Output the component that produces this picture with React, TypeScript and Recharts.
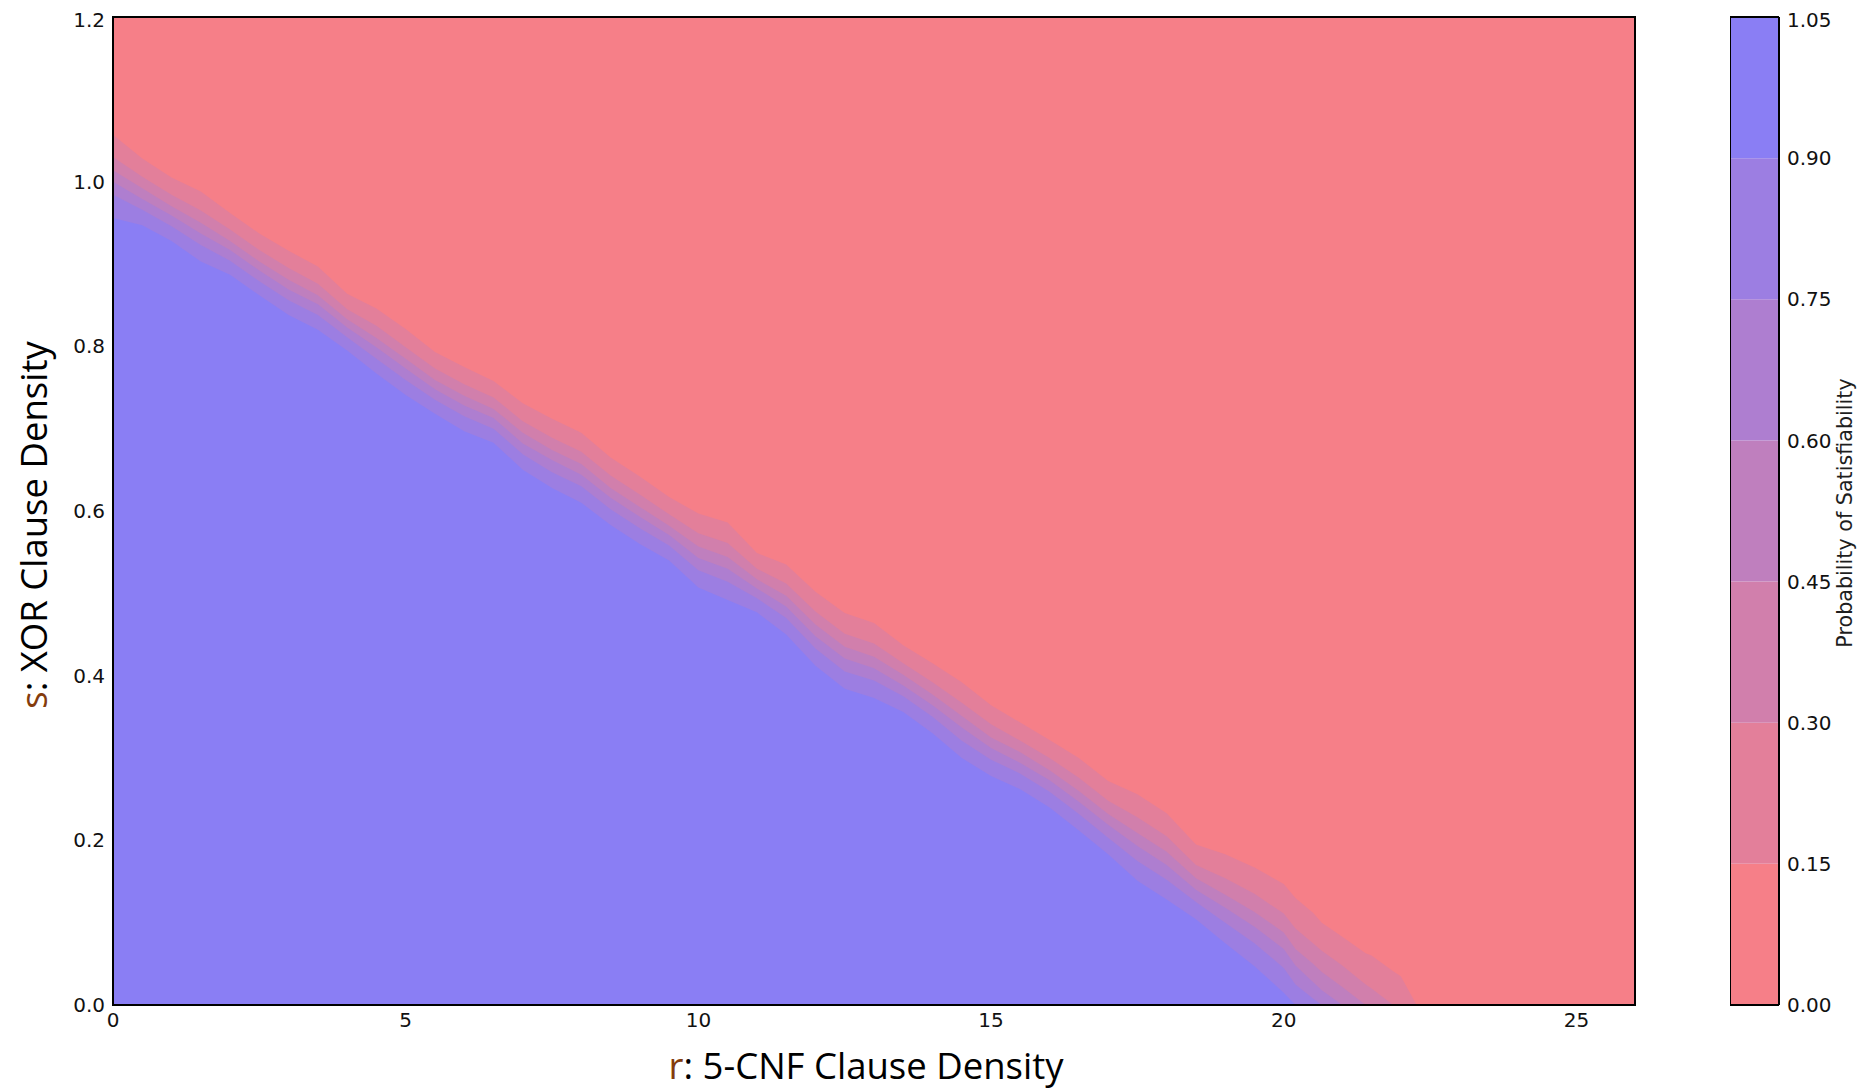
import React from 'react';
import { ComposedChart, Area, XAxis, YAxis, ReferenceArea, BarChart, Bar } from 'recharts';

// r: 5-CNF clause density sample positions
const rValues = [0, 0.5, 1, 1.5, 2, 2.5, 3, 3.5, 4, 4.5, 5, 5.5, 6, 6.5, 7, 7.5, 8, 8.5, 9, 9.5, 10, 10.5, 11, 11.5, 12, 12.5, 13, 13.5, 14, 14.5, 15, 15.5, 16, 16.5, 17, 17.5, 18, 18.5, 19, 19.5, 20, 20.2, 20.5, 20.65, 21, 21.4, 21.5, 21.87, 22, 22.27, 26];

// contour boundaries (s value below which probability >= level)
const b15 = [1.057, 1.028, 1.005, 0.988, 0.962, 0.937, 0.916, 0.897, 0.864, 0.846, 0.821, 0.793, 0.775, 0.758, 0.731, 0.712, 0.695, 0.665, 0.642, 0.617, 0.597, 0.586, 0.549, 0.535, 0.502, 0.476, 0.464, 0.437, 0.415, 0.392, 0.364, 0.343, 0.322, 0.300, 0.272, 0.256, 0.233, 0.195, 0.183, 0.167, 0.147, 0.130, 0.112, 0.100, 0.083, 0.063, 0.060, 0.041, 0.035, 0, 0];
const b30 = [1.030, 1.006, 0.984, 0.965, 0.942, 0.917, 0.895, 0.876, 0.845, 0.825, 0.799, 0.773, 0.754, 0.738, 0.709, 0.689, 0.672, 0.643, 0.620, 0.596, 0.573, 0.561, 0.530, 0.512, 0.478, 0.451, 0.439, 0.415, 0.392, 0.367, 0.341, 0.321, 0.300, 0.276, 0.248, 0.228, 0.205, 0.170, 0.154, 0.135, 0.111, 0.093, 0.075, 0.066, 0.048, 0.025, 0.020, 0, 0, 0, 0];
const b45 = [1.014, 0.992, 0.970, 0.950, 0.928, 0.903, 0.881, 0.862, 0.833, 0.810, 0.785, 0.759, 0.740, 0.724, 0.695, 0.674, 0.657, 0.628, 0.605, 0.582, 0.557, 0.544, 0.517, 0.497, 0.462, 0.435, 0.423, 0.401, 0.377, 0.351, 0.325, 0.307, 0.285, 0.260, 0.232, 0.209, 0.186, 0.154, 0.134, 0.113, 0.088, 0.068, 0.050, 0.040, 0.022, 0, 0, 0, 0, 0, 0];
const b60 = [1.000, 0.979, 0.959, 0.937, 0.917, 0.892, 0.869, 0.851, 0.823, 0.799, 0.773, 0.748, 0.728, 0.713, 0.682, 0.662, 0.644, 0.616, 0.593, 0.571, 0.543, 0.530, 0.506, 0.484, 0.448, 0.421, 0.409, 0.388, 0.364, 0.337, 0.312, 0.294, 0.273, 0.247, 0.219, 0.193, 0.170, 0.140, 0.118, 0.095, 0.068, 0.048, 0.028, 0.018, 0, 0, 0, 0, 0, 0, 0];
const b75 = [0.984, 0.966, 0.946, 0.923, 0.904, 0.879, 0.856, 0.838, 0.811, 0.785, 0.759, 0.735, 0.715, 0.700, 0.669, 0.647, 0.630, 0.602, 0.579, 0.558, 0.528, 0.514, 0.494, 0.470, 0.433, 0.405, 0.394, 0.375, 0.350, 0.321, 0.298, 0.281, 0.259, 0.232, 0.203, 0.175, 0.152, 0.125, 0.100, 0.075, 0.045, 0.025, 0.008, 0, 0, 0, 0, 0, 0, 0, 0];
const b90 = [0.956, 0.947, 0.928, 0.903, 0.887, 0.862, 0.838, 0.820, 0.795, 0.767, 0.741, 0.718, 0.697, 0.683, 0.650, 0.628, 0.610, 0.583, 0.560, 0.540, 0.507, 0.492, 0.477, 0.450, 0.412, 0.384, 0.373, 0.356, 0.330, 0.300, 0.278, 0.262, 0.240, 0.212, 0.183, 0.151, 0.128, 0.104, 0.075, 0.047, 0.015, 0, 0, 0, 0, 0, 0, 0, 0, 0, 0];

const xTicks = [0, 5, 10, 15, 20, 25];
const yTicks = [0, 0.2, 0.4, 0.6, 0.8, 1.0, 1.2];
const levelTicks = [0, 0.15, 0.3, 0.45, 0.6, 0.75, 0.9, 1.05];
const levelBand = [0.15, 0.15, 0.15, 0.15, 0.15, 0.15, 0.15];
const bandColors = ['#F67F88', '#E37F9A', '#D17FAC', '#BF7FBE', '#AE7ED0', '#9C7EE2', '#8A7EF4'];

const data = rValues.map((r, i) => ({
  r,
  b15: b15[i],
  b30: b30[i],
  b45: b45[i],
  b60: b60[i],
  b75: b75[i],
  b90: b90[i],
}));
const boundaryKeys = ['b15', 'b30', 'b45', 'b60', 'b75', 'b90'];

const cbRow: Record<string, any> = { name: 'cb' };
levelBand.forEach((v, i) => { cbRow['l' + i] = v; });
const cbData = [cbRow];

const tickStyle = { fontFamily: 'DejaVu Sans', fontSize: 20, fill: '#111' };
const inTick = { stroke: '#000', strokeWidth: 1.3 };

export default function App() {
  return (
    <div style={{ position: 'relative', width: 1849, height: 1083 }}>
      <ComposedChart width={1849} height={1083} data={data} margin={{ top: 9, right: 222, bottom: 56, left: 45 }}>
        <ReferenceArea x1={0} x2={26} y1={0} y2={1.2} fill={bandColors[0]} fillOpacity={1} stroke="none" ifOverflow="visible" />
        {boundaryKeys.map((k, i) => (
          <Area
            key={k}
            dataKey={k}
            type="linear"
            stroke="none"
            fill={bandColors[i + 1]}
            fillOpacity={1}
            dot={false}
            activeDot={false}
            isAnimationActive={false}
          />
        ))}
        <XAxis dataKey="r" type="number" domain={[0, 26]} ticks={xTicks} height={30} tick={tickStyle} tickLine={false} axisLine={false} tickSize={6} tickMargin={2} allowDataOverflow />
        <XAxis xAxisId="bin" dataKey="r" type="number" domain={[0, 26]} ticks={xTicks} orientation="bottom" mirror tick={false} axisLine={false} tickLine={inTick} tickSize={5} allowDataOverflow />
        <XAxis xAxisId="tin" dataKey="r" type="number" domain={[0, 26]} ticks={xTicks} orientation="top" mirror tick={false} axisLine={false} tickLine={inTick} tickSize={5} allowDataOverflow />
        <YAxis type="number" domain={[0, 1.2]} ticks={yTicks} width={60} tick={tickStyle} tickFormatter={(v: number) => v.toFixed(1)} tickLine={false} axisLine={false} tickSize={6} tickMargin={2} allowDataOverflow />
        <YAxis yAxisId="lin" type="number" domain={[0, 1.2]} ticks={yTicks} orientation="left" mirror tick={false} axisLine={false} tickLine={inTick} tickSize={5} allowDataOverflow />
        <YAxis yAxisId="rin" type="number" domain={[0, 1.2]} ticks={yTicks} orientation="right" mirror tick={false} axisLine={false} tickLine={inTick} tickSize={5} allowDataOverflow />
        <ReferenceArea x1={0} x2={26} y1={0} y2={1.2} fill="none" stroke="#000" strokeWidth={2} ifOverflow="visible" />
      </ComposedChart>

      <div style={{ position: 'absolute', left: 1722, top: 0 }}>
        <BarChart width={130} height={1083} data={cbData} margin={{ top: 9, right: 21, bottom: 86, left: 0 }} barCategoryGap={0} barGap={0}>
          {levelBand.map((_, i) => (
            <Bar key={i} dataKey={'l' + i} stackId="a" fill={bandColors[i]} isAnimationActive={false} />
          ))}
          <XAxis dataKey="name" mirror tick={false} tickLine={false} axisLine={{ stroke: '#000', strokeWidth: 2 }} />
          <XAxis xAxisId="top" dataKey="name" orientation="top" mirror tick={false} tickLine={false} axisLine={{ stroke: '#000', strokeWidth: 2 }} />
          <YAxis type="number" orientation="right" domain={[0, 1.05]} ticks={levelTicks} width={60} tick={{ ...tickStyle, textAnchor: 'start' }} tickFormatter={(v: number) => v.toFixed(2)} tickLine={false} axisLine={{ stroke: '#000', strokeWidth: 2 }} tickSize={6} tickMargin={2} allowDataOverflow />
          <YAxis yAxisId="rin" type="number" orientation="right" mirror domain={[0, 1.05]} ticks={levelTicks} tick={false} axisLine={false} tickLine={inTick} tickSize={5} allowDataOverflow />
          <YAxis yAxisId="lft" type="number" orientation="left" mirror domain={[0, 1.05]} ticks={levelTicks} tick={false} tickLine={false} axisLine={{ stroke: '#000', strokeWidth: 2 }} allowDataOverflow />
        </BarChart>
      </div>

      <div style={{ position: 'absolute', left: 858, top: 1058, transform: 'translate(-50%, -50%)', whiteSpace: 'nowrap', fontFamily: 'Open Sans', fontSize: 36.5, color: '#000', lineHeight: 1.2 }}>
        <span style={{ color: '#843C0C' }}>r</span>: 5-CNF Clause Density
      </div>
      <div style={{ position: 'absolute', left: 25, top: 517, transform: 'translate(-50%, -50%) rotate(-90deg)', whiteSpace: 'nowrap', fontFamily: 'Open Sans', fontSize: 36.5, color: '#000', lineHeight: 1 }}>
        <span style={{ color: '#843C0C' }}>s</span>: XOR Clause Density
      </div>
      <div style={{ position: 'absolute', left: 1837, top: 505, transform: 'translate(-50%, -50%) rotate(-90deg)', whiteSpace: 'nowrap', fontFamily: 'DejaVu Sans', fontSize: 20.7, color: '#1e1e1e', lineHeight: 1 }}>
        Probability of Satisfiability
      </div>
    </div>
  );
}
